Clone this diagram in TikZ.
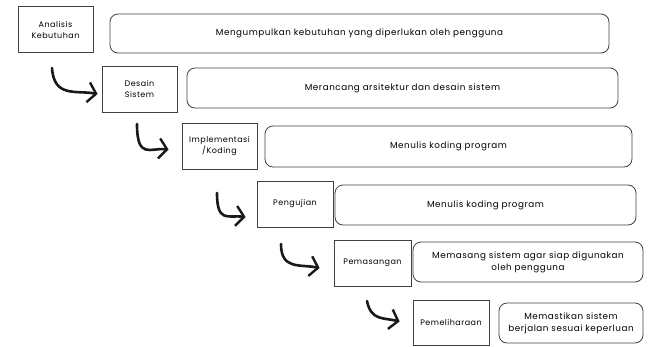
\documentclass[tikz,border=0pt]{standalone}
\usepackage{fontspec}
\setmainfont{Poppins}
\newfontfamily\handfont[LetterSpace=6]{Poppins}
\usetikzlibrary{arrows.meta,calc}
\tikzset{
  stage/.style={draw=black!75, line width=0.8pt, minimum width=#1, minimum height=46pt, inner sep=1pt, align=center, font=\handfont\fontsize{8}{11}\selectfont},
  desc/.style={draw=black!75, line width=0.8pt, rounded corners=8pt, inner sep=1pt, align=center, font=\handfont\fontsize{8.8}{12}\selectfont},
  hook/.style={line width=2.6pt, line cap=round, black!90, -{Straight Barb[length=8pt,width=20pt,line width=2.4pt]}}
}
\begin{document}
\begin{tikzpicture}[x=1pt,y=-1pt]
\useasboundingbox (0,0) rectangle (654,346);
% stage boxes
\node[stage=75pt] (b1) at (55.5,29.5) {Analisis\\Kebutuhan};
\node[stage=75pt] (b2) at (139.5,89) {Desain\\Sistem};
\node[stage=75pt] (b3) at (219.5,146.5) {Implementasi\\/Koding};
\node[stage=76pt] (b4) at (295,204) {Pengujian};
\node[stage=77pt] (b5) at (372.5,263) {Pemasangan};
\node[stage=76pt, minimum height=45pt] (b6) at (451,322.5) {Pemeliharaan};
% description boxes
\node[desc, minimum width=499pt, minimum height=39pt] (d1) at (359.5,33.5) {Mengumpulkan kebutuhan yang diperlukan oleh pengguna};
\node[desc, minimum width=431pt, minimum height=40pt] (d2) at (402.5,88) {Merancang arsitektur dan desain sistem};
\node[desc, minimum width=367pt, minimum height=41pt] (d3) at (448.5,146.5) {Menulis koding program};
\node[desc, minimum width=301pt, minimum height=40pt] (d4) at (485.5,205) {Menulis koding program};
\node[desc, minimum width=230pt, minimum height=40pt] (d5) at (528,262) {Memasang sistem agar siap digunakan\\oleh pengguna};
\node[desc, minimum width=144pt, minimum height=40pt] (d6) at (571,323) {Memastikan sistem\\berjalan sesuai keperluan};
% hook arrows
\coordinate (s1) at (52,68);
\coordinate (s2) at (137,124);
\coordinate (s3) at (217,193);
\coordinate (s4) at (281,244);
\coordinate (s5) at (367,301);
\draw[hook] (s1) .. controls +(2,30) and +(-22,-4) .. ($(b2.west)+(-4,5)$);
\draw[hook] (s2) .. controls +(0,36) and +(-18,-2) .. ($(b3.west)+(-13,3)$);
\draw[hook] (s3) .. controls +(0,30) and +(-18,-2) .. ($(b4.west)+(-11,13)$);
\draw[hook] (s4) .. controls +(0,26) and +(-20,-4) .. ($(b5.west)+(-14,5)$);
\draw[hook] (s5) .. controls +(4,20) and +(-16,-4) .. ($(b6.west)+(-13,-1)$);
\end{tikzpicture}
\end{document}
